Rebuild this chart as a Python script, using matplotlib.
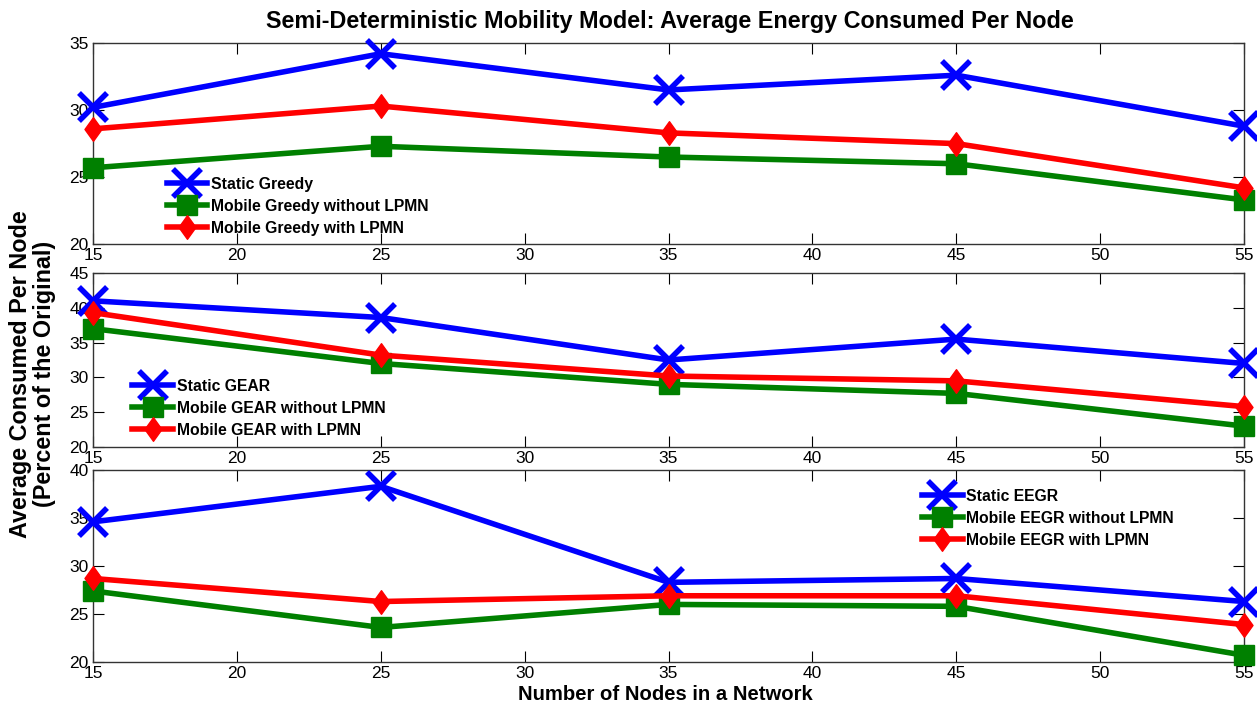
import matplotlib
matplotlib.use("Agg")
import matplotlib.pyplot as plt
from matplotlib.path import Path

plt.rcParams['font.family'] = ['Liberation Sans', 'DejaVu Sans']

nodes = [15, 25, 35, 45, 55]

greedy_static = [30.2, 34.2, 31.5, 32.6, 28.8]
greedy_mobile = [25.7, 27.3, 26.5, 26.0, 23.3]
greedy_lpmn = [28.6, 30.3, 28.3, 27.5, 24.2]

gear_static = [41.0, 38.6, 32.5, 35.5, 32.0]
gear_mobile = [37.0, 32.0, 29.0, 27.7, 23.0]
gear_lpmn = [39.3, 33.2, 30.2, 29.5, 25.8]

eegr_static = [34.6, 38.3, 28.3, 28.7, 26.3]
eegr_mobile = [27.4, 23.6, 26.0, 25.8, 20.7]
eegr_lpmn = [28.7, 26.3, 26.9, 26.9, 23.9]

panels = [
    ("Greedy", greedy_static, greedy_mobile, greedy_lpmn, (20, 35), [20, 25, 30, 35]),
    ("GEAR", gear_static, gear_mobile, gear_lpmn, (20, 45), [20, 25, 30, 35, 40, 45]),
    ("EEGR", eegr_static, eegr_mobile, eegr_lpmn, (20, 40), [20, 25, 30, 35, 40]),
]

# slightly elongated diamond
diamond = Path([(0, 1), (0.72, 0), (0, -1), (-0.72, 0), (0, 1)],
               [Path.MOVETO, Path.LINETO, Path.LINETO, Path.LINETO, Path.CLOSEPOLY])

fig = plt.figure(figsize=(12.57, 7.12), dpi=100)
left, width = 0.074, 0.9157
rects = [
    [left, 0.657, width, 0.2826],
    [left, 0.3722, width, 0.2444],
    [left, 0.0702, width, 0.2697],
]
legend_anchor = [(0.064, 0.335), (0.034, 0.392), (0.72, 0.903)]

for rect, (name, s, m, l, ylim, yticks), anchor in zip(rects, panels, legend_anchor):
    ax = fig.add_axes(rect)
    ax.plot(nodes, s, color='#0000ff', lw=4, marker='x', ms=20, mew=4,
            label=f'Static {name}', clip_on=False, zorder=3)
    ax.plot(nodes, m, color='#008000', lw=4, marker='s', ms=14,
            label=f'Mobile {name} without LPMN', clip_on=False, zorder=3)
    ax.plot(nodes, l, color='#ff0000', lw=4, marker=diamond, ms=17,
            label=f'Mobile {name} with LPMN', clip_on=False, zorder=4)
    ax.set_xlim(15, 55)
    ax.set_ylim(*ylim)
    ax.set_xticks([15, 20, 25, 30, 35, 40, 45, 50, 55])
    ax.set_yticks(yticks)
    ax.tick_params(direction='in', top=True, right=True, length=8,
                   labelsize=12.5, pad=3)
    for sp in ax.spines.values():
        sp.set_linewidth(1.0)
        sp.set_color('#333333')
    ax.legend(loc='upper left', bbox_to_anchor=anchor, frameon=False,
              borderaxespad=0, borderpad=0, handlelength=2.6,
              handletextpad=0.25, labelspacing=0.45,
              prop={'size': 11.3, 'weight': 'bold'})

fig.text(0.533, 0.970, 'Semi-Deterministic Mobility Model: Average Energy Consumed Per Node',
         ha='center', va='center', fontsize=16.8, fontweight='bold')
fig.text(0.529, 0.024, 'Number of Nodes in a Network',
         ha='center', va='center', fontsize=14.6, fontweight='bold')
fig.text(0.0255, 0.475, 'Average Consumed Per Node\n(Percent of the Original)',
         ha='center', va='center', rotation=90, fontsize=16.8, fontweight='bold',
         linespacing=1.05)

fig.savefig('out.png', dpi=100)
